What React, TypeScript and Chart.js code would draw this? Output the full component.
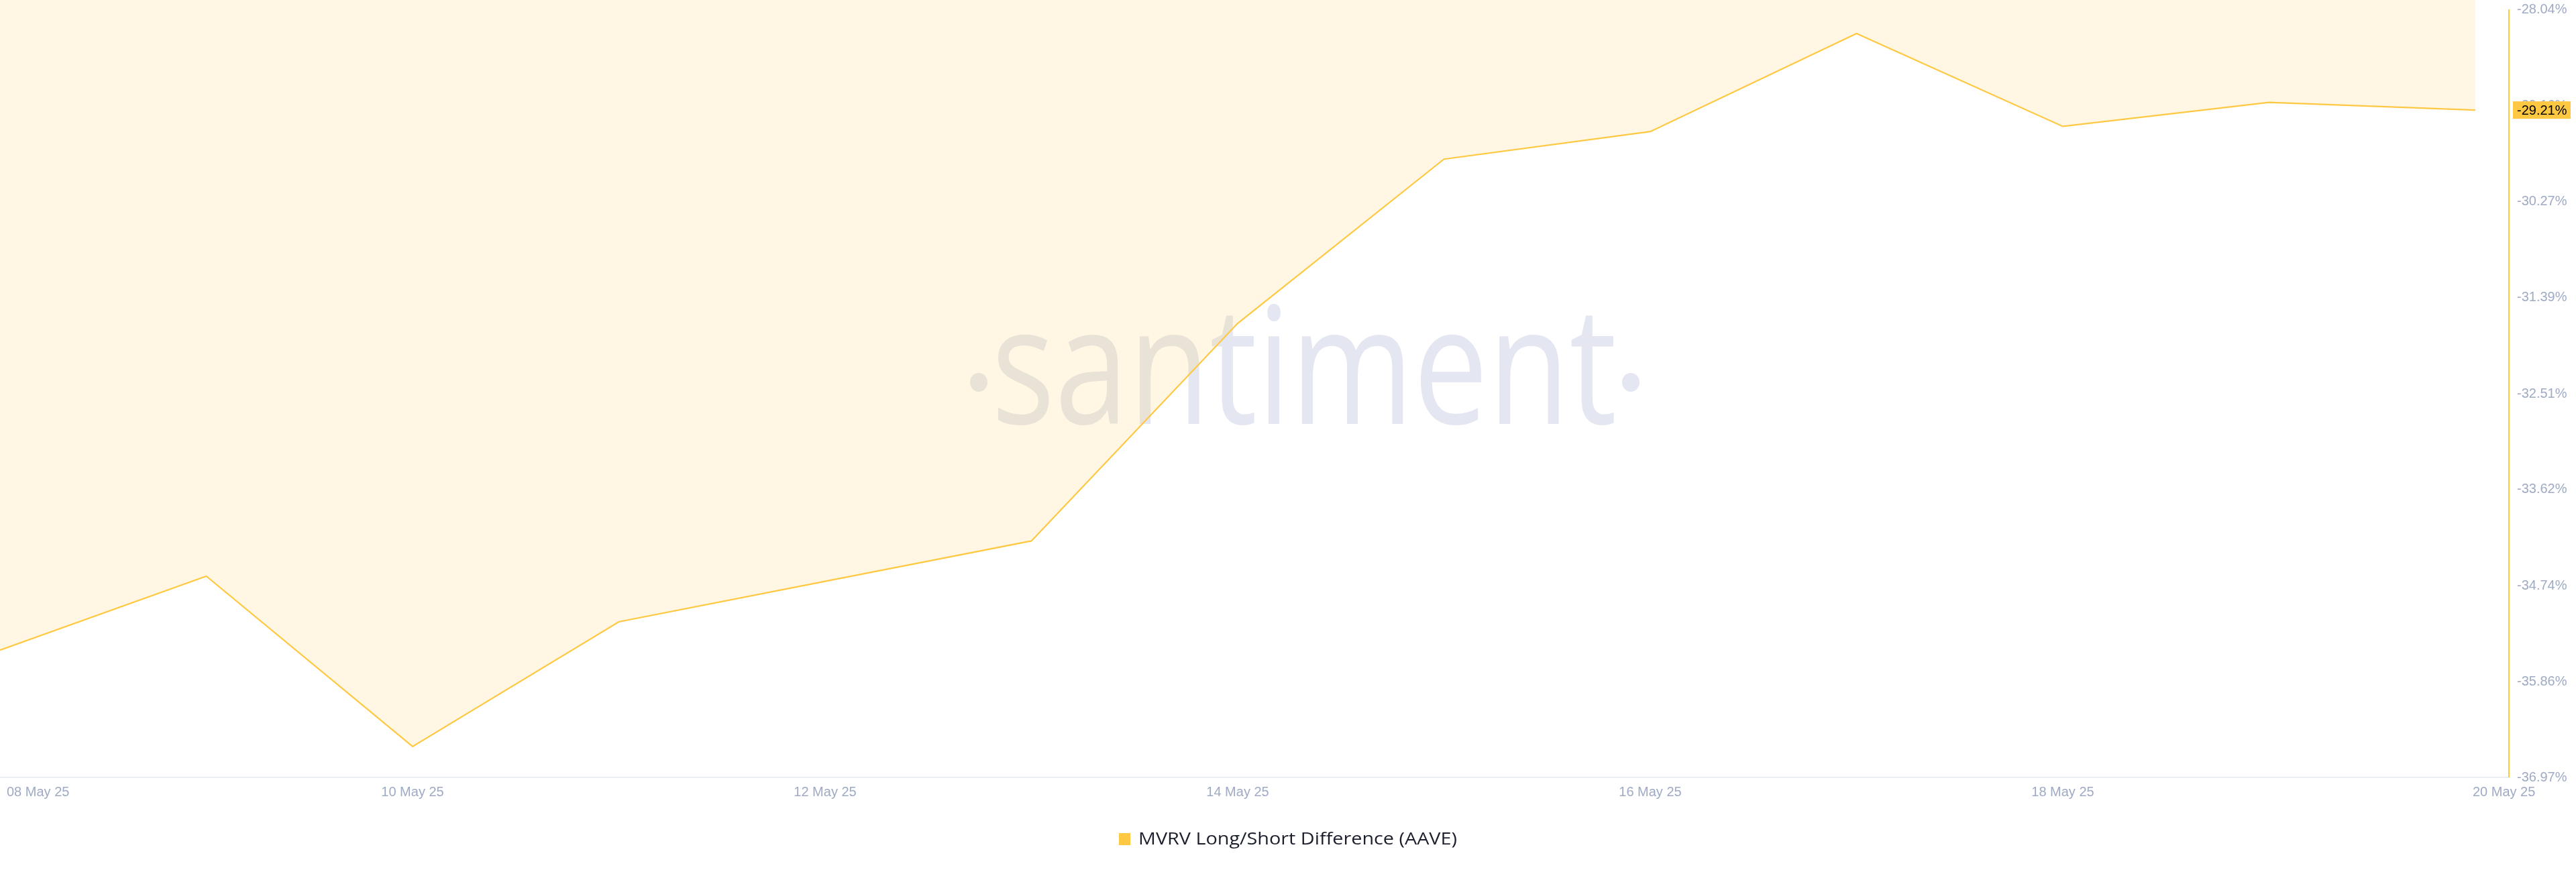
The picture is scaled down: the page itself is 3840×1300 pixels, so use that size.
import React, { useEffect, useRef } from "react";
import { Chart, registerables } from "chart.js";

Chart.register(...registerables);

const dateLabels = [
  "08 May 25", "09 May 25", "10 May 25", "11 May 25", "12 May 25", "13 May 25", "14 May 25",
  "15 May 25", "16 May 25", "17 May 25", "18 May 25", "19 May 25", "20 May 25",
];
const mvrvValues = [
  -35.49, -34.63, -36.61, -35.16, -34.69, -34.22, -31.69, -29.78, -29.46, -28.32, -29.4, -29.12, -29.21,
];
const yTickValues = [-28.04, -29.16, -30.27, -31.39, -32.51, -33.62, -34.74, -35.86, -36.97];
const xTickIndices = [0, 2, 4, 6, 8, 10, 12];
const seriesLabel = "MVRV Long/Short Difference (AAVE)";

const YELLOW = "rgb(255,200,66)";
const TICK_COLOR = "#9faac4";

export default function App() {
  const canvasRef = useRef<HTMLCanvasElement | null>(null);

  useEffect(() => {
    const canvas = canvasRef.current;
    if (!canvas) return;

    const overlay = {
      id: "santimentOverlay",
      beforeDatasetsDraw(chart: any) {
        const ctx = chart.ctx;
        ctx.save();
        ctx.fillStyle = "rgb(228,231,241)";
        ctx.font = "243px 'Open Sans'";
        ctx.textBaseline = "alphabetic";
        ctx.textAlign = "left";
        const text = "santiment";
        const w = ctx.measureText(text).width;
        const left = 1478;
        const targetW = 932;
        const sx = targetW / w;
        ctx.save();
        ctx.translate(left, 632);
        ctx.scale(sx, 1);
        ctx.fillText(text, 0, 0);
        ctx.restore();
        ctx.beginPath();
        ctx.ellipse(1459, 570, 13, 14, 0, 0, Math.PI * 2);
        ctx.fill();
        ctx.beginPath();
        ctx.ellipse(2431, 570, 13, 14, 0, 0, Math.PI * 2);
        ctx.fill();
        ctx.restore();
      },
      afterDraw(chart: any) {
        const ctx = chart.ctx;
        const area = chart.chartArea;
        const xs = chart.scales.x;
        const ys = chart.scales.y;
        ctx.save();
        // right axis line
        ctx.strokeStyle = YELLOW;
        ctx.lineWidth = 2;
        ctx.beginPath();
        ctx.moveTo(area.right, ys.getPixelForValue(yTickValues[0]));
        ctx.lineTo(area.right, area.bottom);
        ctx.stroke();

        // y labels
        ctx.fillStyle = TICK_COLOR;
        ctx.font = "20px 'Liberation Sans'";
        ctx.textBaseline = "middle";
        ctx.textAlign = "left";
        yTickValues.forEach((v) => {
          ctx.fillText(v.toFixed(2) + "%", area.right + 12, ys.getPixelForValue(v));
        });

        // x labels
        xTickIndices.forEach((i, k) => {
          const px = xs.getPixelForValue(i);
          if (k === 0) {
            ctx.textAlign = "left";
            ctx.fillText(dateLabels[i], px + 10, area.bottom + 22);
          } else if (k === xTickIndices.length - 1) {
            ctx.textAlign = "left";
            ctx.fillText(dateLabels[i], px - 4, area.bottom + 22);
          } else {
            ctx.textAlign = "center";
            ctx.fillText(dateLabels[i], px, area.bottom + 22);
          }
        });

        // last value badge
        const last = mvrvValues[mvrvValues.length - 1];
        const by = ys.getPixelForValue(last);
        ctx.fillStyle = YELLOW;
        ctx.fillRect(area.right + 6, by - 13, 86, 26);
        ctx.fillStyle = "#000000";
        ctx.textAlign = "left";
        ctx.fillText(last.toFixed(2) + "%", area.right + 12, by + 1);

        // legend
        ctx.fillStyle = YELLOW;
        ctx.fillRect(1668, 1242, 17, 18);
        ctx.fillStyle = "#1b1f2d";
        ctx.font = "25px 'Open Sans'";
        const lw = ctx.measureText(seriesLabel).width;
        ctx.save();
        ctx.translate(1697, 1252);
        ctx.scale(475 / lw, 1);
        ctx.textAlign = "left";
        ctx.fillText(seriesLabel, 0, 0);
        ctx.restore();
        ctx.restore();
      },
    };

    const chart = new Chart(canvas, {
      type: "line",
      data: {
        labels: dateLabels,
        datasets: [
          {
            label: seriesLabel,
            data: mvrvValues.map((v, i) => ({ x: i, y: v })),
            borderColor: YELLOW,
            borderWidth: 2.2,
            backgroundColor: "rgba(255,200,66,0.15)",
            fill: "end",
            pointRadius: 0,
            tension: 0,
          },
        ],
      },
      options: {
        animation: false,
        responsive: true,
        maintainAspectRatio: false,
        layout: { padding: { top: 0, left: 0, right: 0, bottom: 141 } },
        plugins: {
          legend: { display: false },
          tooltip: { enabled: false },
        },
        scales: {
          x: {
            type: "linear",
            min: 0,
            max: 12 + 50 / 307.3,
            grid: { display: false, drawTicks: false },
            border: { display: true, color: "#e3e8f0", width: 1.5 },
            ticks: { display: false },
            afterFit: (s: any) => {
              s.height = 0;
            },
          },
          y: {
            type: "linear",
            position: "right",
            min: -36.97,
            max: -27.93,
            grid: { display: false, drawTicks: false },
            border: { display: false },
            ticks: { display: false },
            afterFit: (s: any) => {
              s.width = 100;
            },
          },
        },
      },
      plugins: [overlay],
    });

    return () => {
      chart.destroy();
    };
  }, []);

  return (
    <div style={{ position: "absolute", left: 0, top: 0, width: 3840, height: 1300, background: "#ffffff" }}>
      <canvas ref={canvasRef} />
    </div>
  );
}
